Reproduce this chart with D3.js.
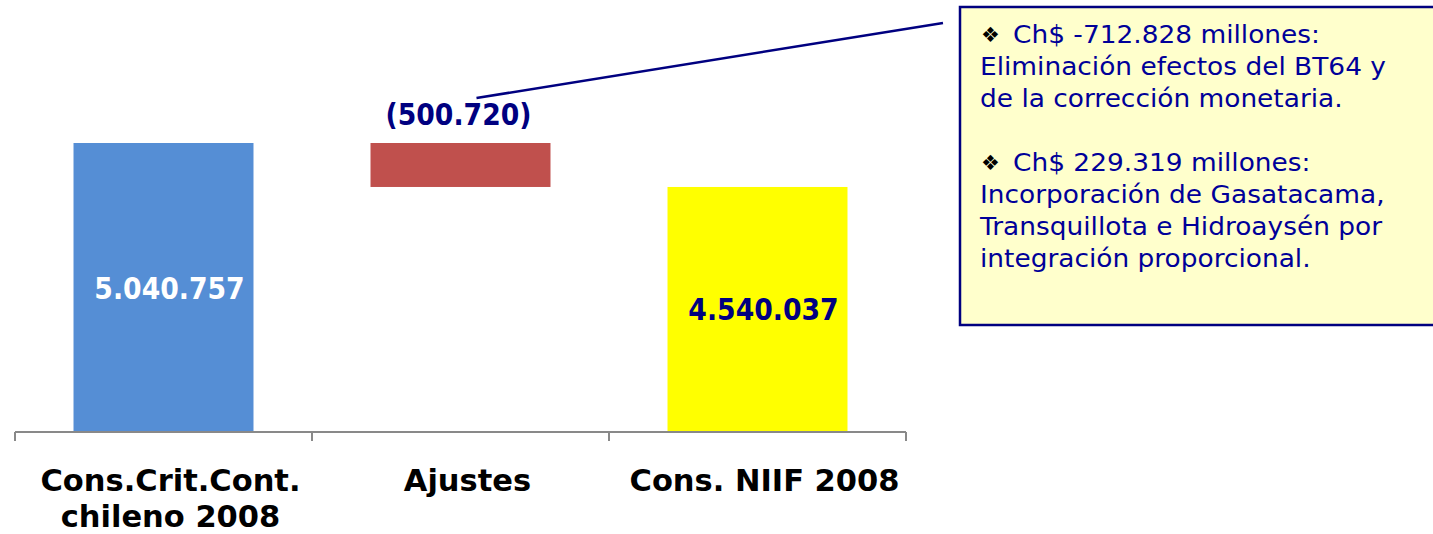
<!DOCTYPE html>
<html>
<head>
<meta charset="utf-8">
<script src="https://cdn.jsdelivr.net/npm/d3@7"></script>
<style>
  body { margin: 0; background: #fff; }
  svg { display: block; font-family: "DejaVu Sans", Verdana, sans-serif; }
</style>
</head>
<body>
<div id="chart"></div>
<script>
// data
var categories = ["Cons.Crit.Cont.|chileno 2008", "Ajustes", "Cons. NIIF 2008"];
var barStart = [0, 5040757, 0];
var barEnd = [5040757, 4540037, 4540037];
var barLabels = ["5.040.757", "(500.720)", "4.540.037"];
var noteLines = [
  "\u2756|Ch$ -712.828 millones:",
  "Eliminación efectos del BT64 y",
  "de la corrección monetaria.",
  "",
  "\u2756|Ch$ 229.319 millones:",
  "Incorporación de Gasatacama,",
  "Transquillota e Hidroaysén por",
  "integración proporcional."
];

var barColors = ["#558ed5", "#c0504d", "#ffff00"];
var labelColors = ["#ffffff", "#000080", "#000080"];

var W = 1433, H = 534;
var svg = d3.select("#chart").append("svg")
    .attr("width", W)
    .attr("height", H);

// x: one band per category, ticks sit between bands
var x = d3.scaleBand()
  .domain(categories)
  .range([15, 906])
  .paddingInner(0.394)
  .paddingOuter(0.197);

// y: value axis does not start at zero in the original
var y = d3.scaleLinear()
  .domain([1750000, 5040757])
  .range([432, 143]);

var bars = categories.map(function(c, i) {
  return { cat: c, lo: Math.max(Math.min(barStart[i], barEnd[i]), y.domain()[0]),
           hi: Math.max(barStart[i], barEnd[i]), i: i };
});

// squeeze text horizontally like the original
function squeeze(sel, f) {
  sel.each(function() {
    var w = this.getComputedTextLength();
    d3.select(this).attr("textLength", w * f).attr("lengthAdjust", "spacingAndGlyphs");
  });
}

svg.selectAll("rect.bar")
  .data(bars)
  .enter()
  .append("rect")
    .attr("class", "bar")
    .attr("x", d => x(d.cat))
    .attr("y", d => y(d.hi))
    .attr("width", x.bandwidth())
    .attr("height", d => y(d.lo) - y(d.hi))
    .attr("fill", d => barColors[d.i]);

// value labels: inside the totals, above the adjustment
svg.selectAll("text.val")
  .data(bars)
  .enter()
  .append("text")
    .attr("class", "val")
    .attr("x", d => x(d.cat) + x.bandwidth() / 2 + (d.i == 1 ? -2 : 6))
    .attr("y", d => d.i == 1 ? y(d.hi) - 18 : (y(d.hi) + y(d.lo)) / 2 + 11)
    .attr("text-anchor", "middle")
    .attr("font-size", 30)
    .attr("font-weight", "bold")
    .attr("fill", d => labelColors[d.i])
    .text(d => barLabels[d.i])
    .call(squeeze, 0.89);

// axis line with ticks on band edges
var step = x.step();
var edges = [x(categories[0]) - step * x.paddingInner() / 2];
categories.forEach(function(c) { edges.push(x(c) + x.bandwidth() + step * x.paddingInner() / 2); });

var axis = svg.append("g").attr("stroke", "#898989").attr("stroke-width", 2);
axis.append("line")
  .attr("x1", edges[0]).attr("x2", edges[edges.length - 1])
  .attr("y1", y.range()[0]).attr("y2", y.range()[0]);
axis.selectAll("line.tick")
  .data(edges)
  .enter()
  .append("line")
    .attr("class", "tick")
    .attr("x1", d => d).attr("x2", d => d)
    .attr("y1", y.range()[0]).attr("y2", y.range()[0] + 9);

// category labels, wrap on "|" into tspans of one text
categories.forEach(function(c) {
  var cx = x(c) + x.bandwidth() / 2 + 7;
  var t = svg.append("text")
    .attr("y", 491)
    .attr("text-anchor", "middle")
    .attr("font-size", 30.5)
    .attr("font-weight", "bold")
    .attr("fill", "#000");
  c.split("|").forEach(function(part, j) {
    t.append("tspan")
      .attr("x", cx)
      .attr("dy", j ? 35.5 : 0)
      .text(part)
      .call(squeeze, 1.0);
  });
});

// note box
var box = svg.append("g");
box.append("rect")
  .attr("x", 960).attr("y", 7)
  .attr("width", 500).attr("height", 318)
  .attr("fill", "#ffffcc")
  .attr("stroke", "#000080")
  .attr("stroke-width", 2.5);

noteLines.forEach(function(line, i) {
  var yy = 43 + i * 32;
  if (!line) return;
  var parts = line.split("|");
  if (parts.length > 1) {
    box.append("text")
      .attr("x", 981).attr("y", yy - 1)
      .attr("font-size", 21)
      .attr("fill", "#000")
      .text(parts[0]);
    box.append("text")
      .attr("x", 1013).attr("y", yy)
      .attr("font-size", 24)
      .attr("fill", "#000099")
      .text(parts[1])
      .call(squeeze, 1.1);
  } else {
    box.append("text")
      .attr("x", 980).attr("y", yy)
      .attr("font-size", 24)
      .attr("fill", "#000099")
      .text(line)
      .call(squeeze, 1.1);
  }
});

// leader line from the adjustment label to the box
svg.append("line")
  .attr("x1", x(categories[1]) + x.bandwidth() / 2 + 16)
  .attr("y1", y(barStart[1]) - 45)
  .attr("x2", 943)
  .attr("y2", 23)
  .attr("stroke", "#000080")
  .attr("stroke-width", 2.5);
</script>
</body>
</html>
